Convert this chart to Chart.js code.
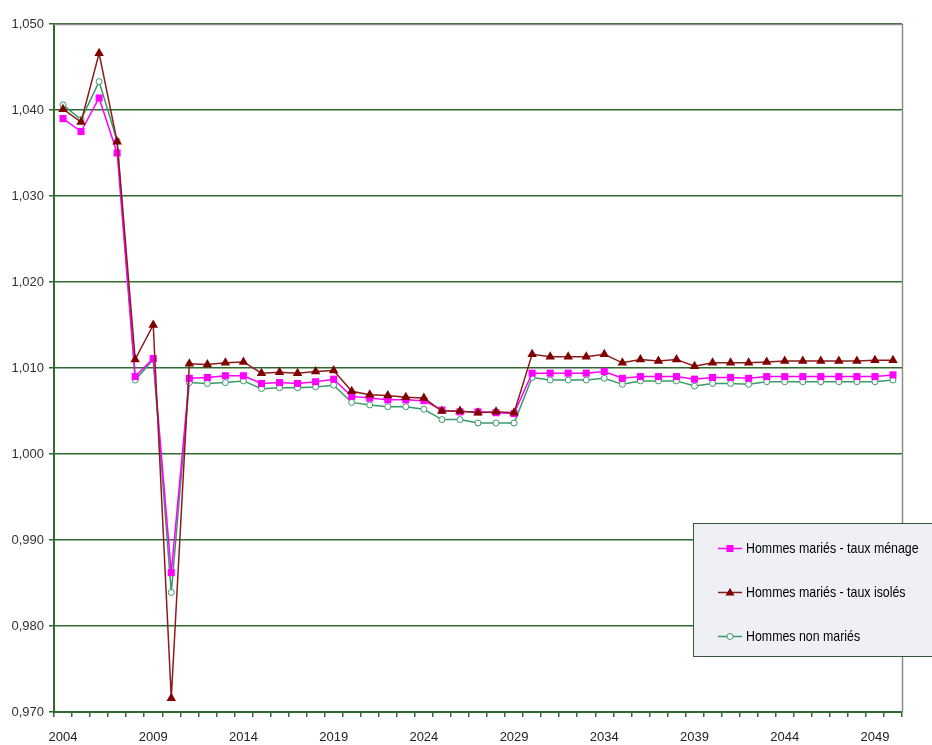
<!DOCTYPE html>
<html>
<head>
<meta charset="utf-8">
<script src="https://cdn.jsdelivr.net/npm/chart.js@4/dist/chart.umd.min.js"></script>
<style>
  html, body { margin: 0; padding: 0; background: #ffffff; }
  #wrap { width: 932px; height: 745px; position: relative; }
</style>
</head>
<body>
<div id="wrap"><canvas id="c" width="932" height="745"></canvas></div>
<script>
const years = [];
for (let y = 2004; y <= 2050; y++) years.push(String(y));

const seriesNames = ["Hommes mariés - taux ménage", "Hommes mariés - taux isolés", "Hommes non mariés"];

const menage = [
  1.0390, 1.0375, 1.0414, 1.0350, 1.0090, 1.0111, 0.9862, 1.0088, 1.0089, 1.0091,
  1.0091, 1.0082, 1.0083, 1.0082, 1.0084, 1.0087, 1.0067, 1.0065, 1.0063, 1.0063,
  1.0062, 1.0051, 1.0049, 1.0049, 1.0048, 1.0047, 1.0094, 1.0094, 1.0094, 1.0094,
  1.0096, 1.0088, 1.0090, 1.0090, 1.0090, 1.0087, 1.0089, 1.0089, 1.0088, 1.0090,
  1.0090, 1.0090, 1.0090, 1.0090, 1.0090, 1.0090, 1.0092
];

const isoles = [
  1.0401, 1.0386, 1.0466, 1.0363, 1.0110, 1.0150, 0.9716, 1.0105, 1.0104, 1.0106,
  1.0107, 1.0094, 1.0095, 1.0094, 1.0096, 1.0097, 1.0073, 1.0069, 1.0068, 1.0066,
  1.0065, 1.0050, 1.0050, 1.0048, 1.0049, 1.0048, 1.0116, 1.0113, 1.0113, 1.0113,
  1.0116, 1.0106, 1.0110, 1.0108, 1.0110, 1.0102, 1.0106, 1.0106, 1.0106, 1.0107,
  1.0108, 1.0108, 1.0108, 1.0108, 1.0108, 1.0109, 1.0109
];

const nonMaries = [
  1.0406, 1.0389, 1.0433, 1.0364, 1.0086, 1.0110, 0.9839, 1.0083, 1.0082, 1.0083,
  1.0085, 1.0076, 1.0077, 1.0077, 1.0078, 1.0080, 1.0060, 1.0057, 1.0055, 1.0055,
  1.0052, 1.0040, 1.0040, 1.0036, 1.0036, 1.0036, 1.0089, 1.0086, 1.0086, 1.0086,
  1.0088, 1.0081, 1.0085, 1.0085, 1.0085, 1.0079, 1.0082, 1.0082, 1.0081, 1.0084,
  1.0084, 1.0084, 1.0084, 1.0084, 1.0084, 1.0084, 1.0086
];

const yMin = 0.970, yMax = 1.050, yStep = 0.010;

const FONT = '"Liberation Sans", Arial, sans-serif';
const GRID_GREEN = '#2f6a2f';

const legendPlugin = {
  id: 'boxLegend',
  afterDraw(chart) {
    const ctx = chart.ctx;
    const ca = chart.chartArea;
    ctx.save();
    // gray top and right border of plot area
    ctx.strokeStyle = '#8c8c8c';
    ctx.lineWidth = 1.5;
    ctx.beginPath();
    ctx.moveTo(ca.left, ca.top + 0.5);
    ctx.lineTo(ca.right + 0.5, ca.top + 0.5);
    ctx.lineTo(ca.right + 0.5, ca.bottom);
    ctx.stroke();

    // legend box
    const bx = 693.5, by = 523.5, bw = 245, bh = 133;
    ctx.fillStyle = '#eef0f5';
    ctx.fillRect(bx, by, bw, bh);
    ctx.strokeStyle = '#3b573b';
    ctx.lineWidth = 1;
    ctx.strokeRect(bx, by, bw, bh);

    const rows = [548.5, 592.5, 636.5];
    chart.data.datasets.forEach((ds, i) => {
      const yy = rows[i];
      ctx.strokeStyle = ds.borderColor;
      ctx.lineWidth = 1.5;
      ctx.beginPath();
      ctx.moveTo(718, yy);
      ctx.lineTo(742, yy);
      ctx.stroke();
      const cx = 730;
      ctx.fillStyle = ds.pointBackgroundColor;
      ctx.strokeStyle = ds.pointBorderColor;
      ctx.lineWidth = 1;
      if (ds.pointStyle === 'rect') {
        ctx.fillRect(cx - 3.5, yy - 3.5, 7, 7);
      } else if (ds.pointStyle === 'triangle') {
        ctx.beginPath();
        ctx.moveTo(cx, yy - 4.5);
        ctx.lineTo(cx + 4.5, yy + 3);
        ctx.lineTo(cx - 4.5, yy + 3);
        ctx.closePath();
        ctx.fill();
      } else {
        ctx.beginPath();
        ctx.arc(cx, yy, 3, 0, Math.PI * 2);
        ctx.fill();
        ctx.stroke();
      }
      ctx.save();
      ctx.translate(746, yy);
      ctx.scale(0.825, 1);
      ctx.fillStyle = '#000000';
      ctx.font = '15px ' + FONT;
      ctx.textBaseline = 'middle';
      ctx.textAlign = 'left';
      ctx.fillText(ds.label, 0, 0);
      ctx.restore();
    });
    ctx.restore();
  }
};

new Chart(document.getElementById('c'), {
  type: 'line',
  data: {
    labels: years,
    datasets: [
      {
        label: seriesNames[0],
        data: menage,
        borderColor: '#ff00ff',
        backgroundColor: '#ff00ff',
        pointBackgroundColor: '#ff00ff',
        pointBorderColor: '#ff00ff',
        pointStyle: 'rect',
        pointRadius: 5,
        borderWidth: 1.5,
        pointBorderWidth: 0,
        order: 1
      },
      {
        label: seriesNames[1],
        data: isoles,
        borderColor: '#8b1c1c',
        backgroundColor: '#800000',
        pointBackgroundColor: '#800000',
        pointBorderColor: '#800000',
        pointStyle: 'triangle',
        pointRadius: 5.5,
        borderWidth: 1.5,
        pointBorderWidth: 0,
        order: 0
      },
      {
        label: seriesNames[2],
        data: nonMaries,
        borderColor: '#3a9a6a',
        backgroundColor: '#ffffff',
        pointBackgroundColor: '#ffffff',
        pointBorderColor: '#3a9a6a',
        pointStyle: 'circle',
        pointRadius: 3,
        borderWidth: 1.5,
        pointBorderWidth: 1,
        order: 2
      }
    ]
  },
  options: {
    responsive: false,
    animation: false,
    devicePixelRatio: 1,
    layout: { padding: { top: 24, right: 30, left: 0, bottom: 0 } },
    plugins: {
      legend: { display: false },
      tooltip: { enabled: false },
      title: { display: false }
    },
    elements: { line: { tension: 0 } },
    scales: {
      x: {
        type: 'category',
        offset: true,
        grid: {
          offset: true,
          drawOnChartArea: false,
          drawTicks: true,
          tickLength: 5,
          color: GRID_GREEN,
          lineWidth: 1.5
        },
        border: { display: true, color: GRID_GREEN, width: 2 },
        ticks: {
          autoSkip: false,
          maxRotation: 0,
          minRotation: 0,
          padding: 13,
          color: '#222222',
          font: { family: FONT, size: 13 },
          callback: function(value, index) {
            const lab = this.getLabelForValue(value);
            return ((parseInt(lab, 10) - 2004) % 5 === 0) ? lab : '';
          }
        },
        afterFit(scale) { scale.height = 33; }
      },
      y: {
        min: yMin,
        max: yMax,
        grid: {
          color: GRID_GREEN,
          lineWidth: 1.5,
          drawTicks: true,
          tickLength: 5
        },
        border: { display: true, color: GRID_GREEN, width: 2 },
        ticks: {
          stepSize: yStep,
          padding: 5,
          color: '#333333',
          font: { family: FONT, size: 13 },
          callback: (v) => Number(v).toFixed(3).replace('.', ',')
        },
        afterFit(scale) { scale.width = 54; }
      }
    }
  },
  plugins: [legendPlugin]
});
</script>
</body>
</html>
